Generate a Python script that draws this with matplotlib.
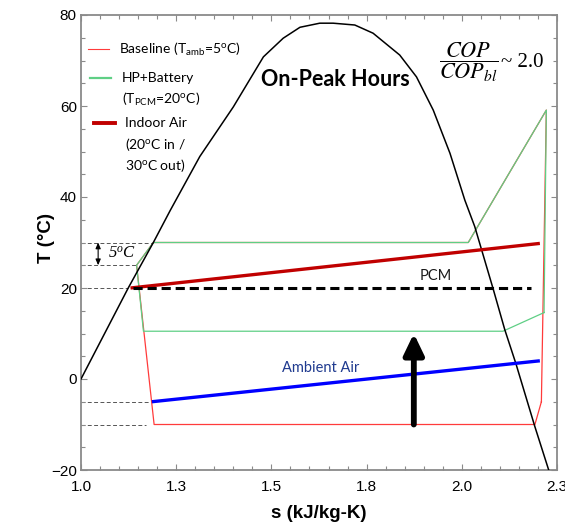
import numpy as np
import matplotlib
matplotlib.use("Agg")
import matplotlib.pyplot as plt
from matplotlib.ticker import MultipleLocator, FixedLocator, FixedFormatter

plt.rcParams['mathtext.default'] = 'regular'

# ---------------- data ----------------
# saturation dome
dome_s = [1.0, 1.124, 1.19, 1.234, 1.312, 1.40, 1.479, 1.531, 1.575, 1.627,
          1.662, 1.719, 1.767, 1.837, 1.881, 1.925, 1.969, 2.008, 2.034,
          2.052, 2.082, 2.113, 2.142, 2.192, 2.232]
dome_T = [0.0, 20.0, 30.0, 37.0, 48.9, 59.8, 70.8, 74.9, 77.3, 78.2,
          78.2, 77.8, 76.0, 71.2, 66.4, 59.1, 49.6, 39.3, 33.5,
          28.4, 19.9, 10.8, 3.4, -10.5, -21.0]

# baseline cycle (T_amb = 5 C)
base_s = [2.209, 2.222, 2.017, 1.19, 1.146, 1.192, 2.192, 2.209]
base_T = [-5.0, 59.1, 30.0, 30.0, 25.0, -10.0, -10.0, -5.0]

# HP + battery cycle (T_PCM = 20 C)
hp_s = [2.216, 2.222, 2.017, 1.19, 1.146, 1.164, 2.108, 2.216]
hp_T = [14.6, 59.1, 30.0, 30.0, 25.0, 10.5, 10.5, 14.6]

# indoor air, PCM, ambient air
indoor_s = [1.13, 2.205]
indoor_T = [20.0, 29.8]
pcm_s = [1.137, 2.183]
pcm_T = [20.0, 20.0]
amb_s = [1.186, 2.205]
amb_T = [-5.0, 4.0]

# lift arrow
arrow_s = [1.874, 1.874]
arrow_T = [-10.0, 10.0]

# dashed reference levels
ref_T = [30.0, 25.0, 20.0, -5.0, -10.0]
ref_s_end = [1.19, 1.146, 1.124, 1.185, 1.172]

# 5 C bracket
bracket_s = 1.045
bracket_T = [25.0, 30.0]

x_ticks = [1.0, 1.25, 1.5, 1.75, 2.0, 2.25]
x_tick_labels = ['1.0', '1.3', '1.5', '1.8', '2.0', '2.3']
y_ticks = [-20, 0, 20, 40, 60, 80]

# ---------------- style ----------------
RED = '#ff3b3b'
GREEN = '#5fcf85'
DARKRED = '#c00000'
BLUE = '#0000ff'
GRAY = '#8a8a8a'
SANS = ['Liberation Sans', 'DejaVu Sans']
CAL = ['Lato', 'DejaVu Sans']

fig = plt.figure(figsize=(5.65, 5.26), dpi=100)
ax = fig.add_axes([81/565, 1-470/526, 476/565, 455/526])

# reference dashed lines
for T, s_end in zip(ref_T, ref_s_end):
    ax.plot([1.0, s_end], [T, T], color='#555555', lw=0.7, ls=(0, (4, 2.5)), zorder=1)

# cycles
ax.plot(base_s, base_T, color=RED, lw=0.9, zorder=2)
ax.plot(hp_s, hp_T, color=GREEN, lw=0.9, zorder=2.1)

# dome
ax.plot(dome_s, dome_T, color='black', lw=1.1, zorder=3)

# air / PCM lines
ax.plot(indoor_s, indoor_T, color=DARKRED, lw=2.4, zorder=4, solid_capstyle='butt')
ax.plot(pcm_s, pcm_T, color='black', lw=2.2, ls=(0, (3, 1.6)), zorder=4)
ax.plot(amb_s, amb_T, color=BLUE, lw=2.4, zorder=4, solid_capstyle='butt')

# lift arrow
ax.annotate('', xy=(arrow_s[1], arrow_T[1]), xytext=(arrow_s[0], arrow_T[0]),
            arrowprops=dict(arrowstyle='-|>,head_length=1.25,head_width=0.6',
                            lw=4.2, color='black', shrinkA=0, shrinkB=0),
            zorder=5)

# 5 C bracket
ax.annotate('', xy=(bracket_s, bracket_T[0]), xytext=(bracket_s, bracket_T[1]),
            arrowprops=dict(arrowstyle='<|-|>,head_length=0.35,head_width=0.15',
                            lw=0.8, color='black', shrinkA=0, shrinkB=0))
ax.text(1.07, 27.6, '5$^{o}$C', family=['Liberation Serif'], style='italic',
        fontsize=12, va='center', ha='left')

# annotations
ax.text(1.667, 65.8, 'On-Peak Hours', family=CAL, weight='bold', fontsize=15.5,
        ha='center', va='center')
ax.text(2.017, 69.7, r'$\dfrac{\mathit{COP}}{\mathit{COP}_{\mathit{bl}}}$',
        family=['Liberation Serif'], math_fontfamily='stix', fontsize=16,
        ha='center', va='center')
ax.text(2.104, 69.6, '~ 2.0', family=['Liberation Serif'], fontsize=15,
        ha='left', va='center')
ax.text(1.932, 22.6, 'PCM', family=CAL, fontsize=10.5, ha='center', va='center',
        color='#1a1a1a')
ax.text(1.629, 2.5, 'Ambient Air', family=CAL, fontsize=10.5, ha='center',
        va='center', color='#1f3a8f')

# legend (manual)
leg = [
    (RED, 0.8, 0.0147, 0.0588, 0.925, 0.0798, ['Baseline (T$_{amb}$=5$^{o}$C)']),
    (GREEN, 1.6, 0.0189, 0.0640, 0.8615, 0.0861, ['HP+Battery', '(T$_{PCM}$=20$^{o}$C)']),
    (DARKRED, 2.8, 0.0273, 0.0714, 0.7626, 0.0924, ['Indoor Air', '(20$^{o}$C in /', '30$^{o}$C out)']),
]
for col, lw, x0, x1, y, xt, lines in leg:
    ax.plot([x0, x1], [y, y], color=col, lw=lw, transform=ax.transAxes, clip_on=False)
    for i, t in enumerate(lines):
        ax.text(xt, y - i * 0.0465, t, family=CAL, fontsize=10, ha='left',
                va='center', transform=ax.transAxes)

# axes
ax.set_xlim(1.0, 2.25)
ax.set_ylim(-20, 80)
ax.xaxis.set_major_locator(FixedLocator(x_ticks))
ax.xaxis.set_major_formatter(FixedFormatter(x_tick_labels))
ax.xaxis.set_minor_locator(MultipleLocator(0.05))
ax.set_yticks(y_ticks)
ax.yaxis.set_minor_locator(MultipleLocator(5))
ax.tick_params(which='both', direction='in', top=True, right=True, color=GRAY,
               width=0.8)
ax.tick_params(which='major', length=4)
ax.tick_params(which='minor', length=3)
ax.tick_params(axis='x', pad=7)
ax.tick_params(axis='y', pad=3)
for lab in ax.get_xticklabels() + ax.get_yticklabels():
    lab.set_family(SANS)
    lab.set_fontsize(11)
for sp in ax.spines.values():
    sp.set_color(GRAY)
    sp.set_linewidth(1.3)

ax.set_xlabel('s (kJ/kg-K)', family=SANS, weight='bold', fontsize=13.5, labelpad=8)
ax.set_ylabel('T (°C)', family=SANS, weight='bold', fontsize=13.5)
ax.yaxis.set_label_coords(-0.055, 0.51)

fig.savefig('out.png', dpi=100)
